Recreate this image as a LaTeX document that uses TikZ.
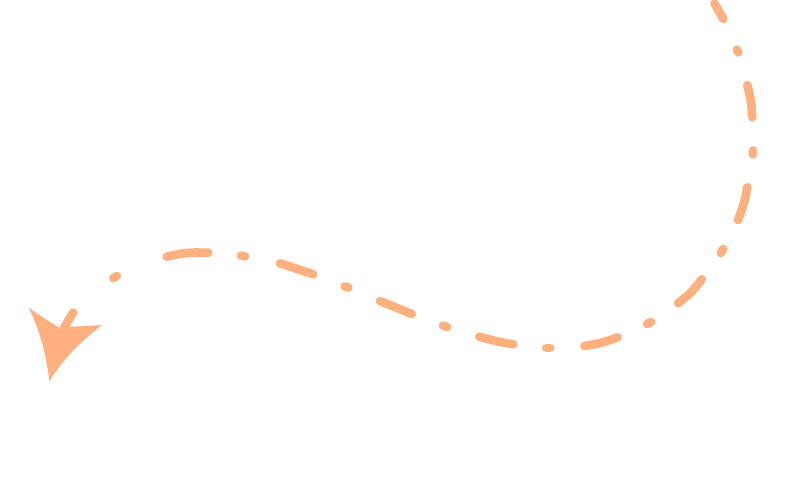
\documentclass[tikz,border=0pt]{standalone}
\definecolor{arr}{RGB}{255,176,127}
\begin{document}
\begin{tikzpicture}[x=1pt,y=-1pt,
  seg/.style={draw=arr,line width=8.6pt,line cap=round}]
\useasboundingbox (0,0) rectangle (807,498);
% dashes and dots along the curve, from top right to the arrowhead
\draw[seg] (714.5,3.5) -- (723.3,19);
\draw[seg] (736.8,49.5) -- (738.3,52.5);
\draw[seg] (747.3,85) .. controls (751,100) .. (752.3,117.3);
\draw[seg] (753,150.5) -- (752.8,154.5);
\draw[seg] (747.3,187.3) .. controls (744,204) .. (738,220);
\draw[seg] (723.2,249) -- (720.8,253);
\draw[seg] (701.7,279.3) .. controls (691.5,292.5) .. (678,303.3);
\draw[seg] (651,322) -- (647,324);
\draw[seg] (617.7,337.3) .. controls (601.5,343) .. (584.3,346);
\draw[seg] (550.3,347.8) -- (546.3,347.8);
\draw[seg] (513.3,344.3) .. controls (496.8,341.5) .. (479.3,336.7);
\draw[seg] (447,327) -- (443,325.6);
\draw[seg] (411.7,314) .. controls (396,307.8) .. (380,301);
\draw[seg] (348.4,287.7) -- (344.6,286.3);
\draw[seg] (313.3,274.3) .. controls (296.5,268.5) .. (280,263.3);
\draw[seg] (245,256.3) -- (241,255.7);
\draw[seg] (208.3,252.7) .. controls (187,252.3) .. (166.7,256.7);
\draw[seg] (116.8,276) -- (113.2,278);
\draw[seg] (73,312.5) -- (64,328);
% arrowhead
\fill[arr] (28.5,307.5) .. controls (40,316) and (50,322) .. (59,327.5)
  -- (102,325) .. controls (81,341) and (62,360) .. (49.5,381.5)
  .. controls (46,353) and (39,328) .. cycle;
\end{tikzpicture}
\end{document}
